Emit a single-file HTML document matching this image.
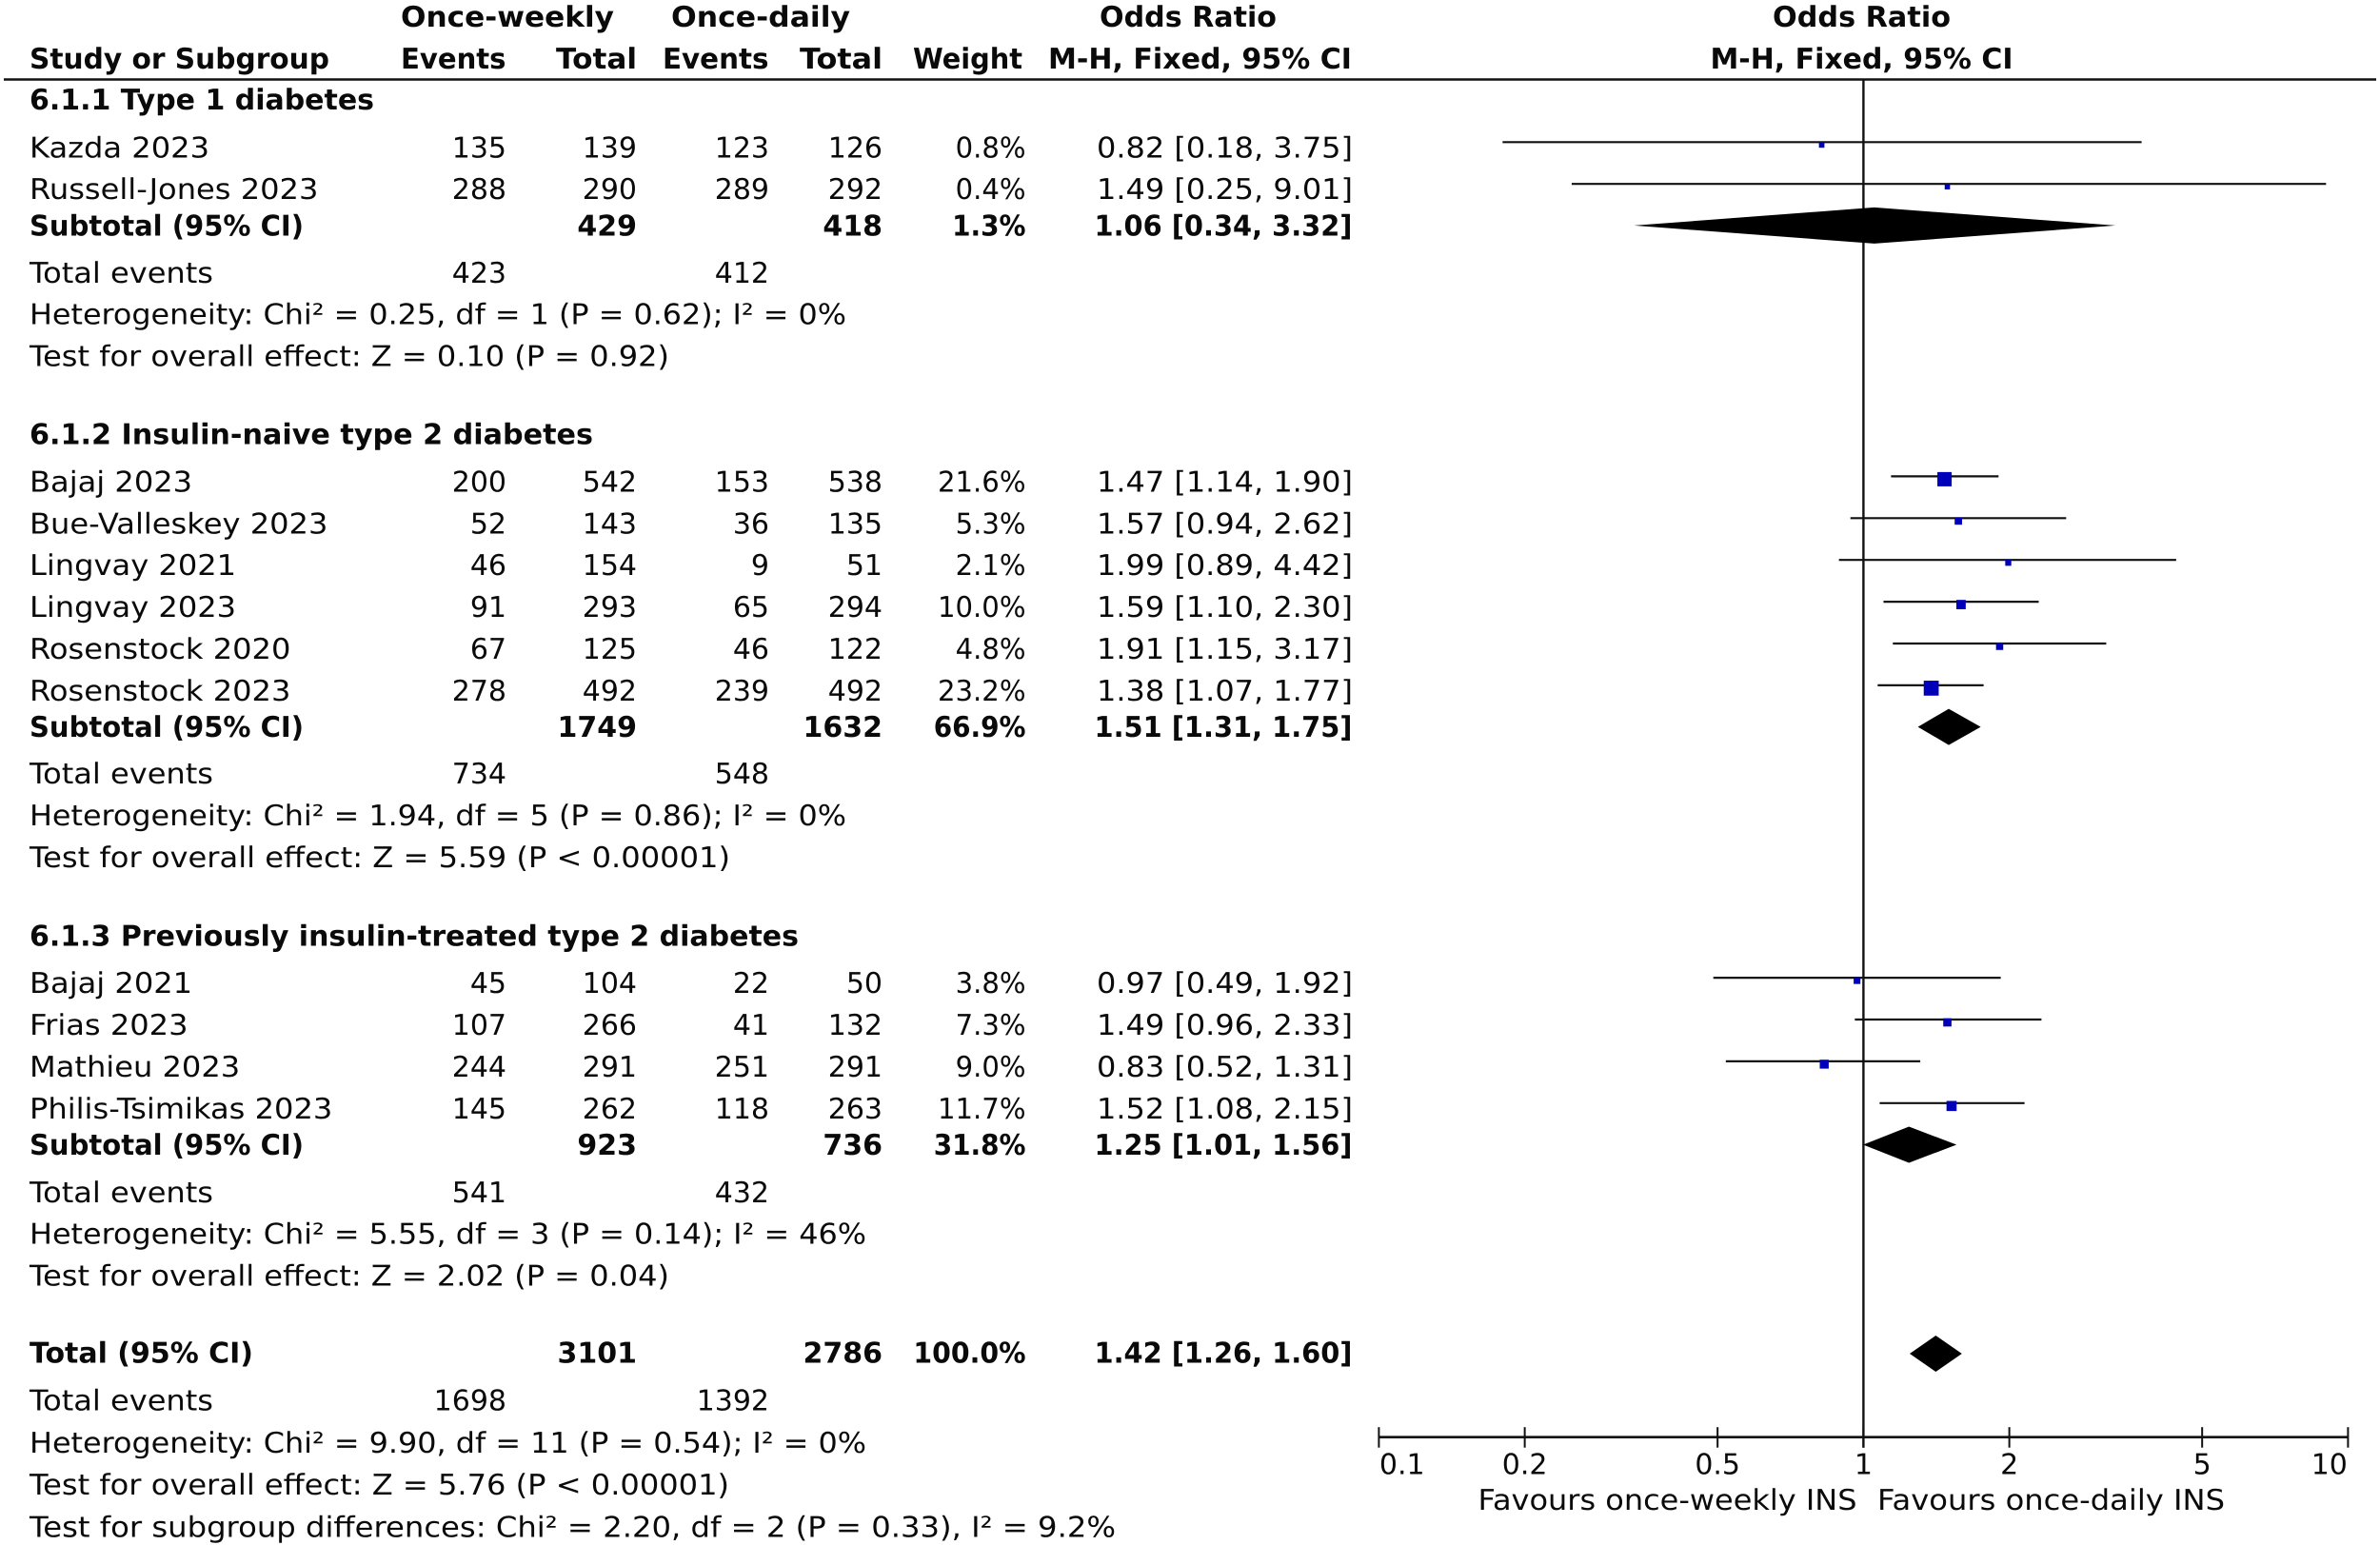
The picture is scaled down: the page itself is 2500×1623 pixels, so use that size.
<!DOCTYPE html>
<html lang="en">
<head>
<meta charset="utf-8">
<title>Forest plot: once-weekly vs once-daily insulin</title>
<style>
html,body{margin:0;padding:0;background:#fff;}
svg{display:block;}
text{font-family:"DejaVu Sans","Liberation Sans",sans-serif;font-size:30px;fill:#0a0a0a;text-rendering:geometricPrecision;white-space:pre;}
.b{font-weight:bold;}
</style>
</head>
<body>
<svg id="forest" xmlns="http://www.w3.org/2000/svg" width="2500" height="1623" viewBox="0 0 2500 1623">
<rect x="0" y="0" width="2500" height="1623" fill="#fff"/>
<g>
<text class="b" x="421" y="28" textLength="224" lengthAdjust="spacingAndGlyphs">Once-weekly</text>
<text class="b" x="705" y="28" textLength="188" lengthAdjust="spacingAndGlyphs">Once-daily</text>
<text class="b" x="1155" y="28" textLength="186" lengthAdjust="spacingAndGlyphs">Odds Ratio</text>
<text class="b" x="1862" y="28" textLength="187" lengthAdjust="spacingAndGlyphs">Odds Ratio</text>
<text class="b" x="31" y="72" textLength="315" lengthAdjust="spacingAndGlyphs">Study or Subgroup</text>
<text class="b" x="421" y="72" textLength="110.5" lengthAdjust="spacingAndGlyphs">Events</text>
<text class="b" x="584" y="72" textLength="85" lengthAdjust="spacingAndGlyphs">Total</text>
<text class="b" x="696" y="72" textLength="111.5" lengthAdjust="spacingAndGlyphs">Events</text>
<text class="b" x="840" y="72" textLength="87" lengthAdjust="spacingAndGlyphs">Total</text>
<text class="b" x="959" y="72" textLength="115" lengthAdjust="spacingAndGlyphs">Weight</text>
<text class="b" x="1101" y="72" textLength="319" lengthAdjust="spacingAndGlyphs">M-H, Fixed, 95% CI</text>
<text class="b" x="1796.5" y="72" textLength="318" lengthAdjust="spacingAndGlyphs">M-H, Fixed, 95% CI</text>
<line x1="4" x2="2496" y1="83.5" y2="83.5" stroke="#111" stroke-width="2.4"/>
</g>
<g>
<text class="b" x="31" y="115" textLength="362" lengthAdjust="spacingAndGlyphs">6.1.1 Type 1 diabetes</text>
<text x="31" y="297" textLength="193" lengthAdjust="spacingAndGlyphs">Total events</text>
<text x="532" y="297" text-anchor="end">423</text>
<text x="808" y="297" text-anchor="end">412</text>
<text x="31" y="340.7" textLength="858" lengthAdjust="spacingAndGlyphs">Heterogeneity: Chi² = 0.25, df = 1 (P = 0.62); I² = 0%</text>
<text x="31" y="384.7" textLength="672" lengthAdjust="spacingAndGlyphs">Test for overall effect: Z = 0.10 (P = 0.92)</text>
</g>
<g>
<text class="b" x="31" y="466.7" textLength="592" lengthAdjust="spacingAndGlyphs">6.1.2 Insulin-naive type 2 diabetes</text>
<text x="31" y="823" textLength="193" lengthAdjust="spacingAndGlyphs">Total events</text>
<text x="532" y="823" text-anchor="end">734</text>
<text x="808" y="823" text-anchor="end">548</text>
<text x="31" y="867" textLength="858" lengthAdjust="spacingAndGlyphs">Heterogeneity: Chi² = 1.94, df = 5 (P = 0.86); I² = 0%</text>
<text x="31" y="911" textLength="736" lengthAdjust="spacingAndGlyphs">Test for overall effect: Z = 5.59 (P &lt; 0.00001)</text>
</g>
<g>
<text class="b" x="31" y="993.5" textLength="808" lengthAdjust="spacingAndGlyphs">6.1.3 Previously insulin-treated type 2 diabetes</text>
<text x="31" y="1263" textLength="193" lengthAdjust="spacingAndGlyphs">Total events</text>
<text x="532" y="1263" text-anchor="end">541</text>
<text x="808" y="1263" text-anchor="end">432</text>
<text x="31" y="1306.7" textLength="879" lengthAdjust="spacingAndGlyphs">Heterogeneity: Chi² = 5.55, df = 3 (P = 0.14); I² = 46%</text>
<text x="31" y="1350.7" textLength="672" lengthAdjust="spacingAndGlyphs">Test for overall effect: Z = 2.02 (P = 0.04)</text>
</g>
<g>
<text x="31" y="1481.5" textLength="193" lengthAdjust="spacingAndGlyphs">Total events</text>
<text x="532" y="1481.5" text-anchor="end">1698</text>
<text x="808" y="1481.5" text-anchor="end">1392</text>
<text x="31" y="1526" textLength="879" lengthAdjust="spacingAndGlyphs">Heterogeneity: Chi² = 9.90, df = 11 (P = 0.54); I² = 0%</text>
<text x="31" y="1570" textLength="735" lengthAdjust="spacingAndGlyphs">Test for overall effect: Z = 5.76 (P &lt; 0.00001)</text>
<text x="31" y="1614.5" textLength="1141" lengthAdjust="spacingAndGlyphs">Test for subgroup differences: Chi² = 2.20, df = 2 (P = 0.33), I² = 9.2%</text>
</g>
<g id="rows"></g>
<g id="plot"></g>
<g id="axis">
<text x="1552.5" y="1586" textLength="398" lengthAdjust="spacingAndGlyphs">Favours once-weekly INS</text>
<text x="1972" y="1586" textLength="365" lengthAdjust="spacingAndGlyphs">Favours once-daily INS</text>
</g>
</svg>
<script>
// Study level data
const studyNames = ["Kazda 2023","Russell-Jones 2023","Bajaj 2023","Bue-Valleskey 2023","Lingvay 2021","Lingvay 2023","Rosenstock 2020","Rosenstock 2023","Bajaj 2021","Frias 2023","Mathieu 2023","Philis-Tsimikas 2023"];
const studyGroups = [0,0,1,1,1,1,1,1,2,2,2,2];
const weeklyEvents = [135,288,200,52,46,91,67,278,45,107,244,145];
const weeklyTotals = [139,290,542,143,154,293,125,492,104,266,291,262];
const dailyEvents = [123,289,153,36,9,65,46,239,22,41,251,118];
const dailyTotals = [126,292,538,135,51,294,122,492,50,132,291,263];
const studyWeights = [0.8,0.4,21.6,5.3,2.1,10.0,4.8,23.2,3.8,7.3,9.0,11.7];
const studyOR = [0.82,1.49,1.47,1.57,1.99,1.59,1.91,1.38,0.97,1.49,0.83,1.52];
const studyLow = [0.18,0.25,1.14,0.94,0.89,1.10,1.15,1.07,0.49,0.96,0.52,1.08];
const studyHigh = [3.75,9.01,1.90,2.62,4.42,2.30,3.17,1.77,1.92,2.33,1.31,2.15];
// Pooled data: three subgroups
const subWeeklyTotals = [429,1749,923];
const subDailyTotals = [418,1632,736];
const subWeights = [1.3,66.9,31.8];
const subOR = [1.06,1.51,1.25];
const subLow = [0.34,1.31,1.01];
const subHigh = [3.32,1.75,1.56];
// Pooled data: overall
const overallWeeklyTotal = 3101;
const overallDailyTotal = 2786;
const overallWeight = 100.0;
const overallOR = 1.42;
const overallLow = 1.26;
const overallHigh = 1.60;
// Axis
const tickValues = [0.1,0.2,0.5,1,2,5,10];
const tickLabels = ["0.1","0.2","0.5","1","2","5","10"];

const NS = "http://www.w3.org/2000/svg";
const rowsG = document.getElementById("rows");
const plotG = document.getElementById("plot");
const axisG = document.getElementById("axis");

// Log axis for the odds ratio and vertical layout of the rows
function xScale(v){ return 1957.4 + 509 * Math.log10(v); }
function studyLineY(i){ return 149.3 + 43.9 * i + 263.3 * studyGroups[i]; }
function studyBaseline(i){ return studyLineY(i) + 16; }
function subtotalBaseline(g){ return studyLineY(studyGroups.lastIndexOf(g)) + 54.3; }
const overallBaseline = 1431.7;
const AXIS_Y = 1509.7;

function addText(parent, name, str, x, y, anchor, bold, widthFactor, fixedWidth){
  const el = document.createElementNS(NS, "text");
  
  
  el.setAttribute("x", x);
  el.setAttribute("y", y);
  if(anchor){ el.setAttribute("text-anchor", anchor); }
  if(bold){ el.setAttribute("class", "b"); }
  el.textContent = str;
  parent.appendChild(el);
  const w = fixedWidth || (widthFactor ? el.getComputedTextLength() * widthFactor : 0);
  if(w){
    el.setAttribute("textLength", w.toFixed(1));
    el.setAttribute("lengthAdjust", "spacingAndGlyphs");
  }
  return el;
}
function addLine(parent, name, x1, y1, x2, y2, sw, color){
  const el = document.createElementNS(NS, "line");
  
  
  el.setAttribute("x1", x1);
  el.setAttribute("y1", y1);
  el.setAttribute("x2", x2);
  el.setAttribute("y2", y2);
  el.setAttribute("stroke", color || "#111");
  el.setAttribute("stroke-width", sw);
  parent.appendChild(el);
  return el;
}
function addDiamond(name, low, mid, high, cy){
  const el = document.createElementNS(NS, "polygon");
  
  
  const pts = [[xScale(low)-2.5,cy],[xScale(mid)-1.5,cy-19],[xScale(high)-0.5,cy],[xScale(mid)-1.5,cy+19]];
  el.setAttribute("points", pts.map(function(p){ return p[0].toFixed(1)+","+p[1].toFixed(1); }).join(" "));
  el.setAttribute("fill", "#000");
  plotG.appendChild(el);
}
function orText(or, lo, hi){ return or.toFixed(2)+" ["+lo.toFixed(2)+", "+hi.toFixed(2)+"]"; }
function slug(s){ return s.toLowerCase().replace(/[^a-z0-9]+/g,"-"); }

// Vertical line of no effect
addLine(plotG, "no-effect-line", xScale(1), 84, xScale(1), 1520.7, 2.4, "#111");

// Study rows
studyNames.forEach(function(name, i){
  const y = studyBaseline(i), s = slug(name);
  addText(rowsG, s+"-name", name, 31, y, null, false, 1.07);
  addText(rowsG, s+"-weekly-events", String(weeklyEvents[i]), 532, y, "end");
  addText(rowsG, s+"-weekly-total", String(weeklyTotals[i]), 669, y, "end");
  addText(rowsG, s+"-daily-events", String(dailyEvents[i]), 808, y, "end");
  addText(rowsG, s+"-daily-total", String(dailyTotals[i]), 927, y, "end");
  addText(rowsG, s+"-weight", studyWeights[i].toFixed(1)+"%", 1077.5, y, "end", false, 0.97);
  addText(rowsG, s+"-odds-ratio", orText(studyOR[i],studyLow[i],studyHigh[i]), 1152, y, null, false, 0, 269);

  const ciY = studyLineY(i);
  addLine(plotG, s+"-ci", xScale(studyLow[i]), ciY, xScale(studyHigh[i]), ciY, 2.2, "#111");
  const size = 5.4 + 0.445 * studyWeights[i];
  const sq = document.createElementNS(NS, "rect");
  
  
  sq.setAttribute("x", (xScale(studyOR[i]) - size/2).toFixed(2));
  sq.setAttribute("y", (ciY + 3 - size/2).toFixed(2));
  sq.setAttribute("width", size.toFixed(2));
  sq.setAttribute("height", size.toFixed(2));
  sq.setAttribute("fill", "#0000bb");
  plotG.appendChild(sq);
});

// Subtotal rows
subOR.forEach(function(or, g){
  const y = subtotalBaseline(g), p = "subtotal-"+(g+1);
  addText(rowsG, p+"-label", "Subtotal (95% CI)", 31, y, null, true, 0, 288);
  addText(rowsG, p+"-weekly-total", String(subWeeklyTotals[g]), 669, y, "end", true);
  addText(rowsG, p+"-daily-total", String(subDailyTotals[g]), 927, y, "end", true);
  addText(rowsG, p+"-weight", subWeights[g].toFixed(1)+"%", 1077.5, y, "end", true, 0.93);
  addText(rowsG, p+"-odds-ratio", orText(or,subLow[g],subHigh[g]), 1149.5, y, null, true, 0, 271);
  addDiamond(p+"-diamond", subLow[g], or, subHigh[g], y - 10.6);
});

// Overall row
addText(rowsG, "overall-label", "Total (95% CI)", 31, overallBaseline, null, true, 0, 235);
addText(rowsG, "overall-weekly-total", String(overallWeeklyTotal), 669, overallBaseline, "end", true);
addText(rowsG, "overall-daily-total", String(overallDailyTotal), 927, overallBaseline, "end", true);
addText(rowsG, "overall-weight", overallWeight.toFixed(1)+"%", 1077.5, overallBaseline, "end", true, 0.945);
addText(rowsG, "overall-odds-ratio", orText(overallOR,overallLow,overallHigh), 1149.5, overallBaseline, null, true, 0, 271);
addDiamond("overall-diamond", overallLow, overallOR, overallHigh, overallBaseline - 9.7);

// Axis
addLine(axisG, "axis-line", xScale(tickValues[0]), AXIS_Y, xScale(tickValues[tickValues.length-1]), AXIS_Y, 2.6, "#111");
tickValues.forEach(function(v, i){
  const x = xScale(v);
  addLine(axisG, "tick-"+tickLabels[i], x, AXIS_Y - 10.5, x, AXIS_Y + 11, 2, "#111");
  const first = i === 0, last = i === tickValues.length - 1;
  addText(axisG, "tick-label-"+tickLabels[i], tickLabels[i], first ? x + 0.5 : (last ? x - 0.5 : x), 1548.3, first ? "start" : (last ? "end" : "middle"));
});
</script>
</body>
</html>
